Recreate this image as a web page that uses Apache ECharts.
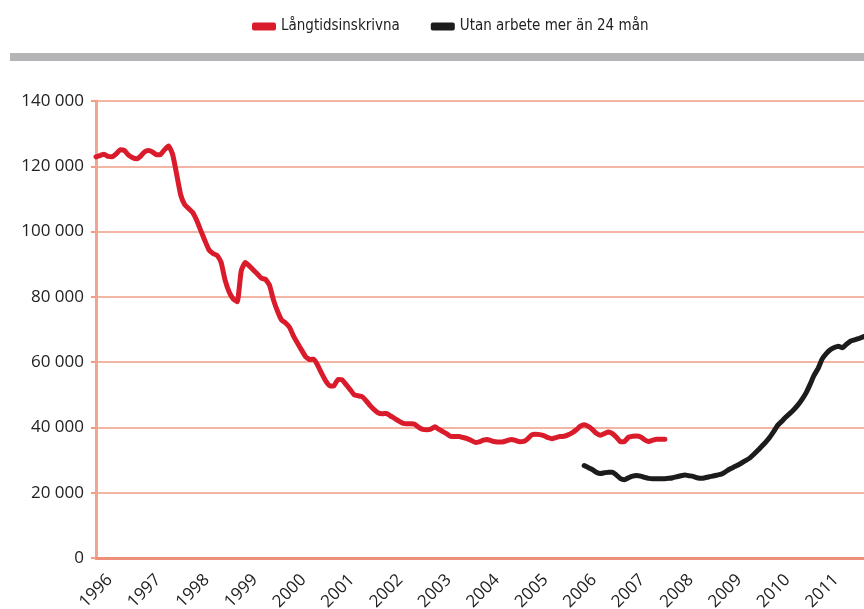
<!DOCTYPE html>
<html lang="sv">
<head>
    <meta charset="UTF-8">
    <title>Långtidsinskrivna</title>
    <script src="https://cdn.jsdelivr.net/npm/echarts@6/dist/echarts.min.js"></script>
    <style>
        body { margin: 0; padding: 0; background: #fff; }
        #chart { width: 864px; height: 609px; }
    </style>
</head>
<body>
    <div id="chart"></div>
    <script>
        // years on the axis (monthly categories are built from them)
        const years = [1996, 1997, 1998, 1999, 2000, 2001, 2002, 2003, 2004, 2005, 2006, 2007, 2008, 2009, 2010, 2011, 2012];
        const lastLabelYear = 2011;

        const seriesNames = ['Långtidsinskrivna', 'Utan arbete mer än 24 mån'];

        // Långtidsinskrivna, monthly from jan 1996
        const longTerm = [
            122900, 123300, 123700, 123000, 122900, 123800, 125100, 124900, 123500, 122700, 122300, 123000,
            124400, 124800, 124400, 123500, 123600, 125100, 126200, 123600, 117500, 111200, 108200, 107000,
            105800, 103300, 100200, 97200, 94400, 93300, 92700, 90600, 85100, 81500, 79400, 78500,
            88000, 90500, 89500, 88200, 87000, 85700, 85400, 83600, 79000, 75600, 72900, 72000,
            70600, 67900, 65700, 63600, 61600, 60800, 60900, 58900, 56400, 54100, 52700, 52800,
            54700, 54600, 53100, 51600, 50000, 49700, 49400, 48100, 46600, 45400, 44400, 44200,
            44300, 43500, 42800, 42000, 41300, 41100, 41100, 41000, 40000, 39400, 39300, 39500,
            40200, 39400, 38700, 38000, 37200, 37200, 37200, 36900, 36600, 36000, 35400, 35600,
            36100, 36300, 35900, 35600, 35500, 35600, 36000, 36300, 36000, 35600, 35700, 36500,
            37700, 37900, 37800, 37500, 36900, 36500, 36900, 37200, 37300, 37700, 38300, 39200,
            40300, 40800, 40300, 39400, 38200, 37600, 38100, 38600, 38100, 37000, 35600, 35700,
            37000, 37300, 37400, 37100, 36200, 35700, 36100, 36400, 36400, 36400
        ];

        // Utan arbete mer än 24 mån, monthly from feb 2006
        const over24Start = '2006-02';
        const over24 = [
            28300, 27700, 27100, 26300, 25900, 26100, 26300, 26300, 25400, 24300, 24000,
            24600, 25100, 25300, 25100, 24700, 24400, 24300, 24300, 24300, 24300, 24400, 24600,
            24900, 25200, 25400, 25200, 25000, 24600, 24400, 24600, 24900, 25100, 25400, 25700,
            26400, 27200, 27800, 28400, 29100, 29800, 30600, 31700, 32900, 34200, 35500, 37000,
            38800, 40700, 41900, 43200, 44300, 45500, 46900, 48600, 50600, 53200, 56000, 58100,
            61000, 62600, 63800, 64500, 64900, 64400, 65500, 66400, 66800, 67200, 67700, 68000
        ];

        const months = [];
        years.forEach(y => {
            for (let m = 1; m <= 12; m++) months.push(y + '-' + (m < 10 ? '0' : '') + m);
        });
        const over24Data = months.slice(0, months.indexOf(over24Start)).map(() => null).concat(over24);

        const salmon = '#f09c86';
        const chart = echarts.init(document.getElementById('chart'));
        chart.setOption({
            animation: false,
            backgroundColor: '#fff',
            textStyle: { fontFamily: '"Open Sans", sans-serif' },
            graphic: [{
                type: 'rect',
                shape: { x: 10, y: 53, width: 860, height: 8 },
                style: { fill: '#b4b4b7' }
            }],
            legend: {
                top: 14,
                left: 247,
                icon: 'roundRect',
                itemWidth: 24,
                itemHeight: 8,
                itemGap: 31,
                textStyle: {
                    fontFamily: '"DejaVu Sans Condensed", "Liberation Sans Narrow", "Open Sans", sans-serif',
                    fontSize: 15,
                    color: '#222'
                },
                data: seriesNames
            },
            grid: { left: 96, right: -51, top: 101, bottom: 51, outerBoundsMode: 'none', containLabel: false },
            xAxis: {
                type: 'category',
                data: months,
                boundaryGap: false,
                axisLine: { lineStyle: { color: '#ee9079', width: 3 } },
                axisTick: { show: false },
                splitLine: { show: false },
                axisLabel: {
                    interval: (i, v) => i % 12 === 0 && +v.slice(0, 4) <= lastLabelYear,
                    formatter: v => v.slice(0, 4),
                    rotate: 45,
                    align: 'center',
                    verticalAlign: 'middle',
                    margin: 33,
                    fontSize: 17,
                    color: '#222'
                }
            },
            yAxis: {
                type: 'value',
                min: 0,
                max: 140000,
                interval: 20000,
                axisLine: { show: true, lineStyle: { color: '#f2a591', width: 3 } },
                axisTick: { show: true, length: 5, lineStyle: { color: salmon, width: 2 } },
                splitLine: { lineStyle: { color: salmon, width: 1.5 } },
                axisLabel: {
                    formatter: v => String(v).replace(/\B(?=(\d{3})+(?!\d))/g, ' '),
                    fontSize: 17,
                    color: '#222',
                    margin: 12
                }
            },
            series: [
                {
                    name: seriesNames[0],
                    type: 'line',
                    data: longTerm,
                    showSymbol: false,
                    smooth: 0.15,
                    itemStyle: { color: '#da1b2b' },
                    lineStyle: { color: '#da1b2b', width: 5, cap: 'round', join: 'round' }
                },
                {
                    name: seriesNames[1],
                    type: 'line',
                    data: over24Data,
                    showSymbol: false,
                    smooth: 0.15,
                    itemStyle: { color: '#1c1c1c' },
                    lineStyle: { color: '#1c1c1c', width: 5, cap: 'round', join: 'round' }
                }
            ]
        });
    </script>
</body>
</html>
